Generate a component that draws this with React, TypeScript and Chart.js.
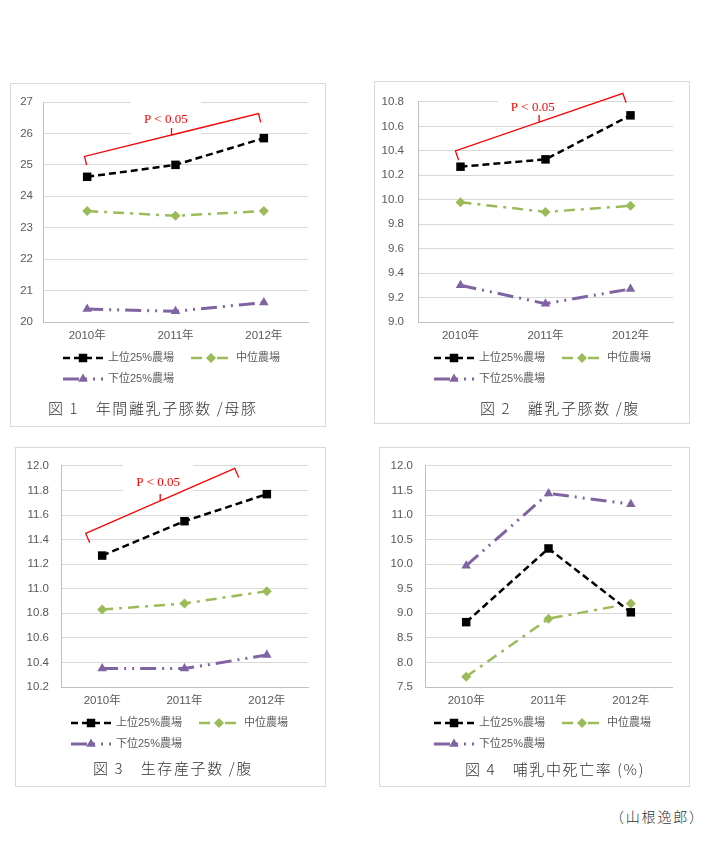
import React, { useEffect, useRef } from "react";
import { Chart, registerables } from "chart.js";

Chart.register(...registerables);

// ---------- data ----------
const years = ["2010年", "2011年", "2012年"];
const seriesNames = ["上位25%農場", "中位農場", "下位25%農場"];

const fig1Top = [24.62, 25.0, 25.85];
const fig1Mid = [23.53, 23.38, 23.53];
const fig1Low = [20.41, 20.34, 20.62];

const fig2Top = [10.27, 10.33, 10.69];
const fig2Mid = [9.98, 9.9, 9.95];
const fig2Low = [9.3, 9.15, 9.27];

const fig3Top = [11.27, 11.55, 11.77];
const fig3Mid = [10.83, 10.88, 10.98];
const fig3Low = [10.35, 10.35, 10.46];

const fig4Top = [8.82, 10.32, 9.02];
const fig4Mid = [7.71, 8.89, 9.2];
const fig4Low = [9.97, 11.44, 11.22];

// y axis: [min, max, step, decimals]
const fig1Axis = [20, 27, 1, 0];
const fig2Axis = [9.0, 10.8, 0.2, 1];
const fig3Axis = [10.2, 12.0, 0.2, 1];
const fig4Axis = [7.5, 12.0, 0.5, 1];

const captions = [
  "図 1　年間離乳子豚数 /母豚",
  "図 2　離乳子豚数 /腹",
  "図 3　生存産子数 /腹",
  "図 4　哺乳中死亡率 (%)",
];
const author = "（山根逸郎）";
const sigLabel = "P < 0.05";

// significance bracket annotation, in data units: [categoryIndex, value]
const fig1BracketFrom = [-0.03, 25.27];
const fig1BracketTo = [1.94, 26.63];
const fig1BracketText = [0.89, 26.44];
const fig2BracketFrom = [-0.06, 10.4];
const fig2BracketTo = [1.91, 10.87];
const fig2BracketText = [0.85, 10.75];
const fig3BracketFrom = [-0.2, 11.45];
const fig3BracketTo = [1.61, 11.98];
const fig3BracketText = [0.68, 11.865];

// ---------- styles ----------
const seriesStyles = [
  { color: "#000000", width: 2.5, dash: [7, 4], point: "rect", radius: 6 },
  { color: "#9bbb59", width: 2.5, dash: [11, 6, 3, 6], point: "rectRot", radius: 5 },
  { color: "#8064a2", width: 3, dash: [16, 6, 2, 6, 2, 6], point: "triangle", radius: 5.5 },
];

const tickFont = "'Liberation Sans Narrow', 'Arial Narrow', 'Liberation Sans', 'Noto Sans CJK JP', sans-serif";
const legendFont = "'Liberation Sans', 'Noto Sans CJK JP', sans-serif";
const cjkFont = "'Noto Sans CJK JP', 'Noto Sans CJK SC', sans-serif";

type Panel = {
  box: number[]; // left, top, width, height (page)
  plot: number[]; // left, top, right, bottom (page)
  tickPad: number;
  legendX: number;
  captionPos: number[];
  caption: string;
  series: number[][];
  axis: number[];
  bracket?: { from: number[]; to: number[]; text: number[]; tick: number };
};

const panels: Panel[] = [
  {
    box: [10, 83, 316, 344],
    plot: [43, 102, 308, 322],
    tickPad: 10,
    legendX: 63,
    captionPos: [48, 408],
    caption: captions[0],
    series: [fig1Top, fig1Mid, fig1Low],
    axis: fig1Axis,
    bracket: { from: fig1BracketFrom, to: fig1BracketTo, text: fig1BracketText, tick: 9 },
  },
  {
    box: [374, 81, 316, 343],
    plot: [418, 98, 673, 322],
    tickPad: 14,
    legendX: 434,
    captionPos: [480, 408],
    caption: captions[1],
    series: [fig2Top, fig2Mid, fig2Low],
    axis: fig2Axis,
    bracket: { from: fig2BracketFrom, to: fig2BracketTo, text: fig2BracketText, tick: 10 },
  },
  {
    box: [15, 447, 311, 340],
    plot: [61, 464, 308, 687],
    tickPad: 12,
    legendX: 71,
    captionPos: [93, 768],
    caption: captions[2],
    series: [fig3Top, fig3Mid, fig3Low],
    axis: fig3Axis,
    bracket: { from: fig3BracketFrom, to: fig3BracketTo, text: fig3BracketText, tick: 10 },
  },
  {
    box: [379, 447, 311, 340],
    plot: [425, 464, 672, 687],
    tickPad: 12,
    legendX: 434,
    captionPos: [465, 769],
    caption: captions[3],
    series: [fig4Top, fig4Mid, fig4Low],
    axis: fig4Axis,
  },
];

function drawMarker(ctx: CanvasRenderingContext2D, style: string, x: number, y: number, r: number, color: string) {
  ctx.save();
  ctx.setLineDash([]);
  ctx.fillStyle = color;
  ctx.beginPath();
  if (style === "rect") {
    const s = Math.SQRT1_2 * r;
    ctx.rect(x - s, y - s, 2 * s, 2 * s);
  } else if (style === "rectRot") {
    ctx.moveTo(x - r, y);
    ctx.lineTo(x, y - r);
    ctx.lineTo(x + r, y);
    ctx.lineTo(x, y + r);
    ctx.closePath();
  } else {
    const a = (2 * Math.PI) / 3;
    ctx.moveTo(x, y - r);
    ctx.lineTo(x + Math.sin(a) * r, y - Math.cos(a) * r);
    ctx.lineTo(x + Math.sin(2 * a) * r, y - Math.cos(2 * a) * r);
    ctx.closePath();
  }
  ctx.fill();
  ctx.restore();
}

function ChartPanel({ cfg }: { cfg: Panel }) {
  const ref = useRef<HTMLCanvasElement>(null);
  const [bx, by, bw, bh] = cfg.box;

  useEffect(() => {
    const [pl, pt, pr, pb] = cfg.plot;
    const left = pl - bx;
    const top = pt - by;
    const right = pr - bx;
    const bottom = pb - by;
    const xAxisH = 28;
    const [ymin, ymax, ystep, ydec] = cfg.axis;

    const legendPlugin = {
      id: "seriesLegend",
      afterDraw(chart: any) {
        const ctx: CanvasRenderingContext2D = chart.ctx;
        const area = chart.chartArea;
        const lx = cfg.legendX - bx;
        chart.data.datasets.forEach((ds: any, i: number) => {
          const st = seriesStyles[i];
          const row = i < 2 ? 0 : 1;
          const col = i % 2;
          const x0 = lx + col * 128;
          const y = area.bottom + (row === 0 ? 36 : 57);
          ctx.save();
          ctx.strokeStyle = st.color;
          ctx.lineWidth = st.width;
          ctx.setLineDash(st.dash);
          ctx.beginPath();
          ctx.moveTo(x0, y);
          ctx.lineTo(x0 + 40, y);
          ctx.stroke();
          ctx.restore();
          drawMarker(ctx, st.point, x0 + 20, y, st.radius, st.color);
          ctx.save();
          ctx.fillStyle = "#595959";
          ctx.font = `11px ${legendFont}`;
          ctx.textBaseline = "middle";
          ctx.textAlign = "left";
          ctx.fillText(ds.label, x0 + 45, y);
          ctx.restore();
        });
      },
    };

    const bracketPlugin = {
      id: "sigBracket",
      afterDatasetsDraw(chart: any) {
        const b = cfg.bracket;
        if (!b) return;
        const ctx: CanvasRenderingContext2D = chart.ctx;
        const xs = chart.scales.x;
        const ys = chart.scales.y;
        const px = (v: number) => {
          const p0 = xs.getPixelForValue(0);
          const p1 = xs.getPixelForValue(1);
          return p0 + (p1 - p0) * v;
        };
        const ax = px(b.from[0]);
        const ay = ys.getPixelForValue(b.from[1]);
        const bxp = px(b.to[0]);
        const byp = ys.getPixelForValue(b.to[1]);
        const tx = px(b.text[0]);
        const ty = ys.getPixelForValue(b.text[1]);
        ctx.save();
        ctx.fillStyle = "#ffffff";
        ctx.fillRect(tx - 35, ty - 18, 70, 36);
        ctx.fillStyle = "#ff0000";
        ctx.font = "13px 'Liberation Serif', 'Times New Roman', serif";
        ctx.textAlign = "center";
        ctx.textBaseline = "middle";
        ctx.fillText(sigLabel, tx, ty);
        const dx = bxp - ax;
        const dy = byp - ay;
        const len = Math.hypot(dx, dy);
        const nx = -dy / len;
        const ny = dx / len;
        const t = b.tick;
        const mx = (ax + bxp) / 2;
        const my = (ay + byp) / 2;
        ctx.strokeStyle = "#ff0000";
        ctx.lineWidth = 1.3;
        ctx.setLineDash([]);
        ctx.beginPath();
        ctx.moveTo(ax + nx * t, ay + ny * t);
        ctx.lineTo(ax, ay);
        ctx.lineTo(mx, my);
        ctx.lineTo(mx, my - 7);
        ctx.moveTo(mx, my);
        ctx.lineTo(bxp, byp);
        ctx.lineTo(bxp + nx * t, byp + ny * t);
        ctx.stroke();
        ctx.restore();
      },
    };

    const chart = new Chart(ref.current as HTMLCanvasElement, {
      type: "line",
      data: {
        labels: years,
        datasets: cfg.series.map((vals, i) => {
          const st = seriesStyles[i];
          return {
            label: seriesNames[i],
            data: vals,
            borderColor: st.color,
            backgroundColor: st.color,
            borderWidth: st.width,
            borderDash: st.dash,
            pointStyle: st.point as any,
            pointRadius: st.radius,
            pointBackgroundColor: st.color,
            pointBorderColor: st.color,
            pointBorderWidth: 0,
            tension: 0,
            fill: false,
          };
        }),
      },
      options: {
        responsive: false,
        maintainAspectRatio: false,
        animation: false,
        events: [],
        layout: {
          padding: { left: 0, top, right: bw - right, bottom: bh - bottom - xAxisH },
        },
        plugins: {
          legend: { display: false },
          tooltip: { enabled: false },
          title: { display: false },
        },
        scales: {
          x: {
            type: "category",
            offset: true,
            grid: { display: false, drawTicks: false },
            border: { display: true, color: "#bfbfbf", width: 1 },
            ticks: {
              color: "#595959",
              font: { family: tickFont, size: 11.5 },
              padding: 7,
              maxRotation: 0,
              autoSkip: false,
            },
            afterFit: (s: any) => {
              s.height = xAxisH;
            },
          },
          y: {
            min: ymin,
            max: ymax,
            grid: { color: "#d9d9d9", drawTicks: false, lineWidth: 1 },
            border: { display: true, color: "#bfbfbf", width: 1 },
            ticks: {
              stepSize: ystep,
              color: "#595959",
              font: { family: tickFont, size: 11.5 },
              padding: cfg.tickPad,
              callback: (v: any) => Number(v).toFixed(ydec),
            },
            afterFit: (s: any) => {
              s.width = left;
            },
          },
        },
      },
      plugins: [bracketPlugin, legendPlugin],
    });
    return () => chart.destroy();
  }, []);

  return (
    <>
      <div
        style={{
          position: "absolute",
          left: bx,
          top: by,
          width: bw,
          height: bh,
          border: "1px solid #d9d9d9",
          boxSizing: "border-box",
          background: "#ffffff",
        }}
      />
      <canvas
        ref={ref}
        width={bw}
        height={bh}
        style={{ position: "absolute", left: bx, top: by, width: bw, height: bh }}
      />
      <div
        style={{
          position: "absolute",
          left: cfg.captionPos[0],
          top: cfg.captionPos[1] - 11,
          fontFamily: cjkFont,
          fontSize: 15,
          lineHeight: "22px",
          letterSpacing: "1.6px",
          whiteSpace: "pre",
          color: "#333333",
          fontWeight: 300,
        }}
      >
        {cfg.caption}
      </div>
    </>
  );
}

export default function App() {
  return (
    <div
      style={{
        position: "absolute",
        left: 0,
        top: 0,
        width: 705,
        height: 845,
        background: "#ffffff",
        overflow: "hidden",
      }}
    >
      {panels.map((p, i) => (
        <ChartPanel key={i} cfg={p} />
      ))}
      <div
        style={{
          position: "absolute",
          left: 610,
          top: 805,
          fontFamily: cjkFont,
          fontSize: 14,
          lineHeight: "22px",
          letterSpacing: "1.8px",
          whiteSpace: "pre",
          color: "#333333",
          fontWeight: 300,
        }}
      >
        {author}
      </div>
    </div>
  );
}
